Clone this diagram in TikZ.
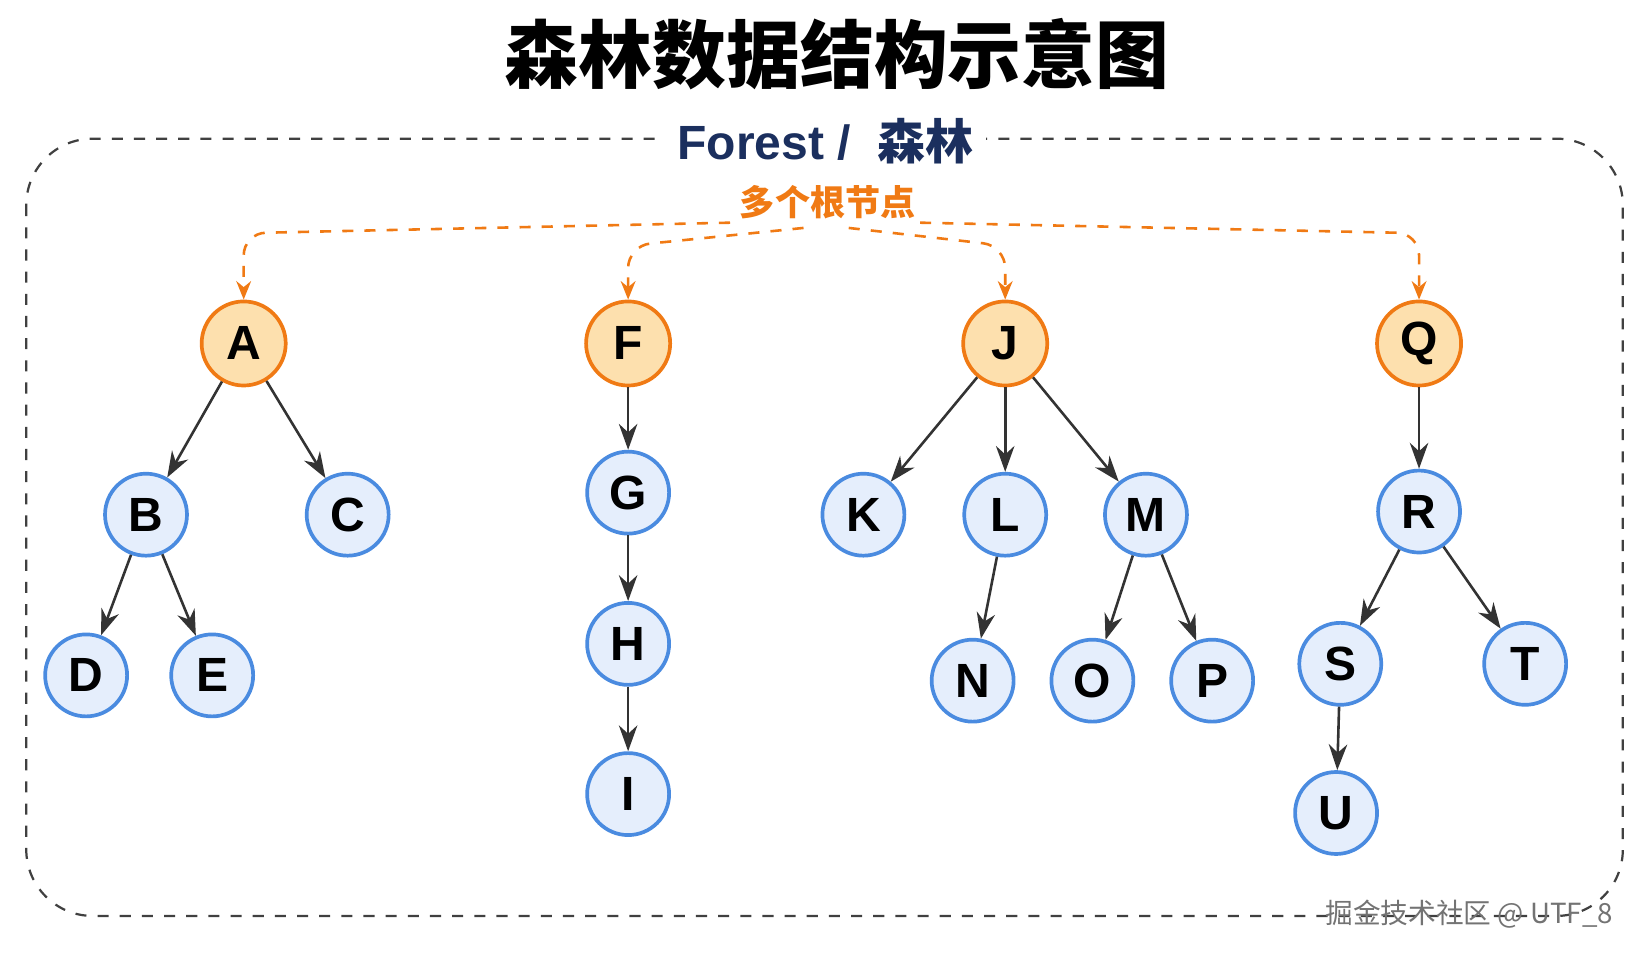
\documentclass[tikz,border=0pt]{standalone}
\usepackage{fontspec}
\setmainfont{Liberation Sans}
\newfontfamily\cjk{Noto Sans CJK SC}
\usetikzlibrary{arrows.meta}
\definecolor{rootfill}{HTML}{FDE0AE}
\definecolor{rootline}{HTML}{F07A14}
\definecolor{leaffill}{HTML}{E5EEFC}
\definecolor{leafline}{HTML}{4A8BE0}
\definecolor{navy}{HTML}{1B2F5E}

\begin{document}
\begin{tikzpicture}
		[x=0.01cm,y=-0.01cm,
		root/.style={circle, draw=rootline, fill=rootfill, line width=1pt,
			minimum size=0.8cm, inner sep=0pt, font=\bfseries\fontsize{13}{13}\selectfont},
		leaf/.style={circle, draw=leafline, fill=leaffill, line width=1pt,
			minimum size=0.78cm, inner sep=0pt, font=\bfseries\fontsize{13}{13}\selectfont},
		edge/.style={-{Stealth[length=7pt,width=5pt]}, draw=black!80, line width=0.7pt},
		hint/.style={-{Stealth[length=5pt,width=4pt]}, draw=rootline, dashed,
			line width=0.7pt, rounded corners=6pt}]
		
		\useasboundingbox (0,0) rectangle (1568,909);
		
		% frame and titles
		\draw[dashed, black!75, line width=0.6pt, rounded corners=18pt] (25,132) rectangle (1545,872);
		\node[fill=white, minimum width=3cm, text=navy, font=\bfseries\fontsize{13}{13}\selectfont]
		(forest) at (786,134) {Forest /~ {\cjk 森林}};
		\node[font=\cjk\bfseries\fontsize{20}{20}\selectfont] (title) at (797,52) {森林数据结构示意图};
		\node[text=rootline, font=\cjk\bfseries\fontsize{9.5}{9.5}\selectfont] (multi) at (788,192) {多个根节点};
		\node[anchor=east, text=black!55, font=\cjk\fontsize{7.5}{7.5}\selectfont] (mark) at (1548,870) {掘金技术社区 @ UTF\_8};
		
		% roots
		\node[root] (A) at (232,327) {A};
		\node[root] (F) at (598,327) {F};
		\node[root] (J) at (957,327) {J};
		\node[root] (Q) at (1351,327) {Q};
		
		% tree A
		\node[leaf] (B) at (139,490) {B};
		\node[leaf] (C) at (331,490) {C};
		\node[leaf] (D) at (82,643) {D};
		\node[leaf] (E) at (202,643) {E};
		% tree F
		\node[leaf] (G) at (598,469) {G};
		\node[leaf] (H) at (598,613) {H};
		\node[leaf] (I) at (598,756) {I};
		% tree J
		\node[leaf] (K) at (822,490) {K};
		\node[leaf] (L) at (957,490) {L};
		\node[leaf] (M) at (1091,490) {M};
		\node[leaf] (N) at (926,648) {N};
		\node[leaf] (O) at (1040,648) {O};
		\node[leaf] (P) at (1154,648) {P};
		% tree Q
		\node[leaf] (R) at (1351,487) {R};
		\node[leaf] (S) at (1276,632) {S};
		\node[leaf] (T) at (1452,632) {T};
		\node[leaf] (U) at (1272,774) {U};
		
		\foreach \a/\b in {A/B,A/C,B/D,B/E,F/G,G/H,H/I,J/K,J/L,J/M,L/N,M/O,M/P,Q/R,R/S,R/T,S/U}
			\draw[edge] (\a) -- (\b);
		
		% root hints
		\coordinate (h1) at (695,212);
		\coordinate (h2) at (765,217);
		\coordinate (h3) at (808,217);
		\coordinate (h4) at (876,212);
		\draw[hint] (h1) -- (232,222) -- (A.north);
		\draw[hint] (h2) -- (598,234) -- (F.north);
		\draw[hint] (h3) -- (957,234) -- (J.north);
		\draw[hint] (h4) -- (1351,222) -- (Q.north);
	
		\end{tikzpicture}
\end{document}
